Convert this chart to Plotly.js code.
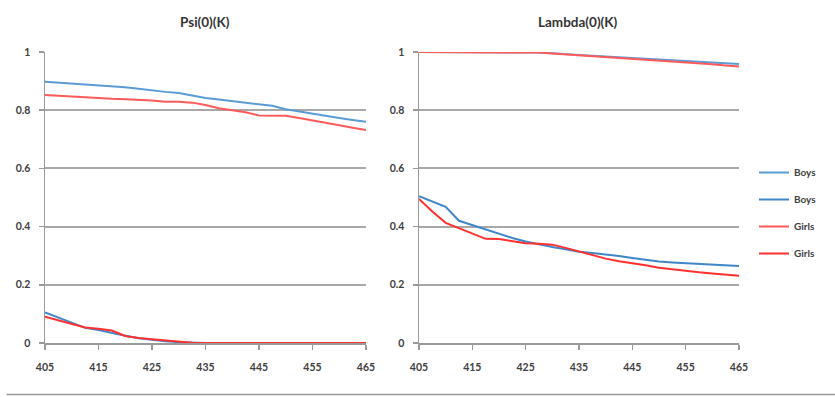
<!DOCTYPE html>
<html>
<head>
<meta charset="utf-8">
<script src="https://cdn.plot.ly/plotly-3.0.1.min.js"></script>
<style>html,body{margin:0;padding:0;background:#fff;}#chart{width:835px;height:397px;}</style>
</head>
<body>
<div id="chart"></div>
<script>
const K = [405, 407.5, 410, 412.5, 415, 417.5, 420, 422.5, 425, 427.5, 430, 432.5, 435, 437.5, 440, 442.5, 445, 447.5, 450, 452.5, 455, 457.5, 460, 462.5, 465];
const xTicks = [405, 415, 425, 435, 445, 455, 465];

const psiBoysHigh = [0.898, 0.895, 0.892, 0.888, 0.885, 0.882, 0.879, 0.874, 0.868, 0.863, 0.859, 0.850, 0.842, 0.837, 0.832, 0.827, 0.822, 0.815, 0.803, 0.795, 0.788, 0.780, 0.773, 0.766, 0.760];
const psiBoysLow = [0.105, 0.088, 0.070, 0.052, 0.045, 0.034, 0.025, 0.016, 0.010, 0.006, 0.003, 0.001, 0, 0, 0, 0, 0, 0, 0, 0, 0, 0, 0, 0, 0];
const psiGirlsHigh = [0.852, 0.849, 0.847, 0.843, 0.840, 0.839, 0.838, 0.836, 0.833, 0.829, 0.829, 0.826, 0.818, 0.807, 0.800, 0.793, 0.782, 0.781, 0.781, 0.773, 0.764, 0.756, 0.748, 0.740, 0.732];
const psiGirlsLow = [0.090, 0.078, 0.066, 0.053, 0.049, 0.043, 0.024, 0.017, 0.013, 0.009, 0.004, 0.001, 0, 0, 0, 0, 0, 0, 0, 0, 0, 0, 0, 0, 0];

const lamBoysHigh = [1, 1, 1, 1, 1, 1, 1, 1, 0.999, 0.998, 0.996, 0.994, 0.990, 0.987, 0.984, 0.982, 0.979, 0.977, 0.974, 0.972, 0.969, 0.966, 0.963, 0.961, 0.959];
const lamBoysLow = [0.505, 0.487, 0.468, 0.420, 0.405, 0.389, 0.375, 0.361, 0.349, 0.339, 0.330, 0.322, 0.314, 0.309, 0.305, 0.299, 0.292, 0.286, 0.280, 0.277, 0.275, 0.272, 0.270, 0.267, 0.265];
const lamGirlsHigh = [1, 1, 1, 1, 1, 1, 1, 1, 0.999, 0.998, 0.995, 0.992, 0.989, 0.986, 0.984, 0.981, 0.978, 0.975, 0.972, 0.968, 0.965, 0.961, 0.958, 0.954, 0.950];
const lamGirlsLow = [0.495, 0.452, 0.413, 0.395, 0.378, 0.358, 0.357, 0.349, 0.343, 0.341, 0.338, 0.327, 0.314, 0.301, 0.290, 0.281, 0.275, 0.267, 0.259, 0.253, 0.248, 0.243, 0.239, 0.235, 0.231];

const seriesNames = ['Boys', 'Boys', 'Girls', 'Girls'];
const colors = ['#5B9BD5', '#3F86C8', '#FF5A5A', '#FF3030'];

function tr(y, i, xa, ya, show) {
  return {x: K, y: y, type: 'scatter', mode: 'lines', name: seriesNames[i],
    legendgroup: 'g' + i, showlegend: show, xaxis: xa, yaxis: ya,
    line: {color: colors[i], width: 2}};
}
const data = [
  tr(psiBoysHigh, 0, 'x', 'y', false),
  tr(psiBoysLow, 1, 'x', 'y', false),
  tr(psiGirlsHigh, 2, 'x', 'y', false),
  tr(psiGirlsLow, 3, 'x', 'y', false),
  tr(lamBoysHigh, 0, 'x2', 'y2', true),
  tr(lamBoysLow, 1, 'x2', 'y2', true),
  tr(lamGirlsHigh, 2, 'x2', 'y2', true),
  tr(lamGirlsLow, 3, 'x2', 'y2', true)
];

const tickFont = {family: 'Lato, "Open Sans", sans-serif', size: 10.5, color: '#404040', weight: 'bold'};
function xax(dom) {
  return {domain: dom, range: [405, 465], tickvals: xTicks, ticktext: xTicks.map(String),
    showgrid: false, zeroline: false, showline: true, linecolor: '#9a9a9a', linewidth: 1.5,
    ticks: 'outside', ticklen: 5, tickcolor: '#9a9a9a', tickwidth: 1.5, ticklabelstandoff: 9,
    tickfont: tickFont, fixedrange: true};
}
function yax(anchor) {
  return {domain: [0.136, 0.869], range: [0, 1], tickvals: [0, 0.2, 0.4, 0.6, 0.8, 1],
    ticktext: ['0', '0.2', '0.4', '0.6', '0.8', '1'], anchor: anchor,
    showgrid: true, gridcolor: '#a8a8a8', gridwidth: 2, zeroline: false,
    showline: true, linecolor: '#9a9a9a', linewidth: 1.5,
    ticks: 'outside', ticklen: 5, tickcolor: '#9a9a9a', tickwidth: 1.5, ticklabelstandoff: 6,
    tickfont: tickFont, fixedrange: true};
}

const titleFont = {family: 'Lato, "Open Sans", sans-serif', size: 13.5, color: '#333333', weight: 'bold'};
const layout = {
  width: 835, height: 397,
  margin: {l: 0, r: 0, t: 0, b: 0},
  paper_bgcolor: '#ffffff', plot_bgcolor: '#ffffff',
  showlegend: true,
  xaxis: Object.assign(xax([0.0539, 0.4383]), {anchor: 'y'}),
  yaxis: yax('x'),
  xaxis2: Object.assign(xax([0.5018, 0.885]), {anchor: 'y2'}),
  yaxis2: yax('x2'),
  legend: {x: 0.903, y: 0.602, xanchor: 'left', yanchor: 'top',
    traceorder: 'grouped', tracegroupgap: 8, itemwidth: 30,
    font: {family: 'Lato, "Open Sans", sans-serif', size: 10, color: '#404040', weight: 'bold'},
    bgcolor: 'rgba(0,0,0,0)'},
  annotations: [
    {text: '<b>Psi(0)(K)</b>', xref: 'paper', yref: 'paper', x: 0.246, y: 0.945, xanchor: 'center', yanchor: 'middle', showarrow: false, font: titleFont},
    {text: '<b>Lambda(0)(K)</b>', xref: 'paper', yref: 'paper', x: 0.692, y: 0.945, xanchor: 'center', yanchor: 'middle', showarrow: false, font: titleFont}
  ],
  shapes: [
    {type: 'line', xref: 'paper', yref: 'paper', x0: 0.008, x1: 1, y0: 0.006, y1: 0.006, line: {color: '#9a9a9a', width: 1.5}}
  ]
};

Plotly.newPlot('chart', data, layout, {displayModeBar: false, staticPlot: true});
</script>
</body>
</html>
